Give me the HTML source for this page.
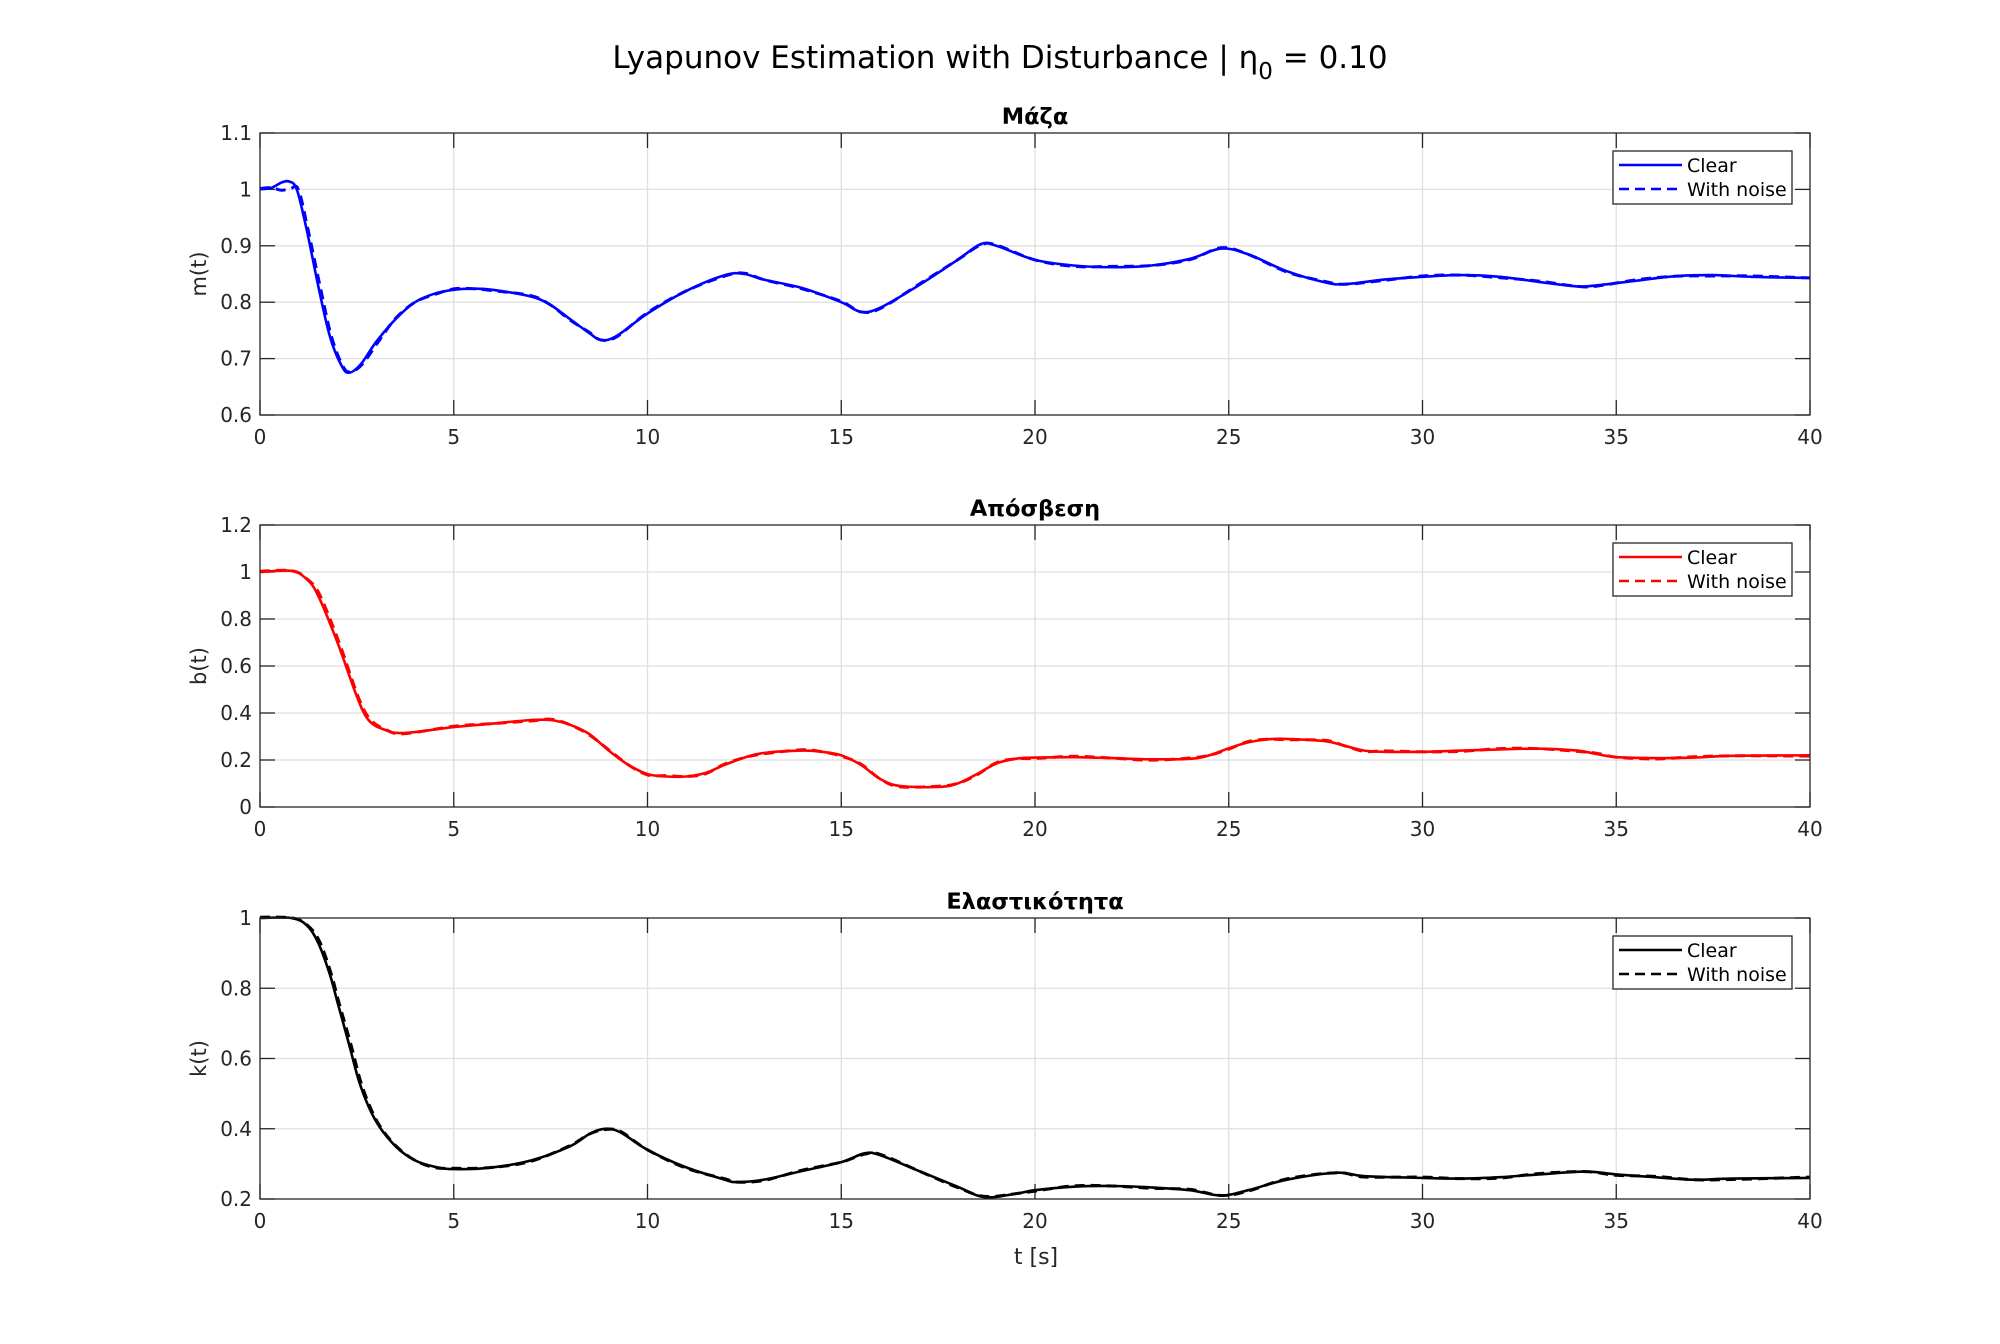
<!DOCTYPE html>
<html><head><meta charset="utf-8">
<style>
html,body{margin:0;padding:0;background:#fff;}
svg{display:block;font-family:"DejaVu Sans","Liberation Sans",sans-serif;}
</style></head>
<body>
<svg id="s" width="2000" height="1344" xmlns="http://www.w3.org/2000/svg">
<rect width="2000" height="1344" fill="#fff"/>
<text x="1000" y="68" font-size="31" text-anchor="middle" fill="#000">Lyapunov Estimation with Disturbance | η<tspan font-size="23" dy="11">0</tspan><tspan dy="-11"> = 0.10</tspan></text>
<g id="plots"></g>
<text x="1036" y="1264" font-size="22" text-anchor="middle" fill="#262626">t [s]</text>
</svg>
<script>
const L=260,R=1810;
const panels=[
 {top:133,bot:415,ymin:0.6,ymax:1.1,ticks:[0.6,0.7,0.8,0.9,1,1.1],lab:["0.6","0.7","0.8","0.9","1","1.1"],title:"Μάζα",yl:"m(t)",col:"#0000ff",
  d:[[0,1],[0.3,1.003],[0.55,1.012],[0.75,1.014],[0.95,1.0],[1.2,0.93],[1.5,0.83],[1.8,0.74],[2.1,0.688],[2.3,0.675],[2.6,0.69],[3,0.73],[3.5,0.77],[4,0.8],[4.5,0.815],[5,0.822],[5.5,0.824],[6,0.822],[7,0.81],[7.5,0.795],[8,0.77],[8.5,0.745],[8.8,0.733],[9.2,0.74],[10,0.78],[11,0.82],[12,0.848],[12.5,0.85],[13,0.84],[14,0.825],[15,0.80],[15.5,0.783],[16,0.79],[17,0.83],[18,0.875],[18.6,0.903],[19,0.9],[20,0.875],[21,0.865],[22,0.862],[23,0.865],[24,0.877],[24.8,0.895],[25.5,0.885],[26.5,0.855],[27.5,0.835],[28,0.832],[29,0.84],[30,0.845],[31,0.848],[32,0.845],[33,0.836],[34,0.828],[34.5,0.83],[35.5,0.838],[36.5,0.846],[37.5,0.848],[38.5,0.845],[40,0.843]]},
 {top:525,bot:807,ymin:0,ymax:1.2,ticks:[0,0.2,0.4,0.6,0.8,1,1.2],lab:["0","0.2","0.4","0.6","0.8","1","1.2"],title:"Απόσβεση",yl:"b(t)",col:"#ff0000",
  d:[[0,1],[0.8,1.005],[1.2,0.97],[1.5,0.9],[2,0.7],[2.5,0.47],[2.8,0.37],[3.2,0.33],[3.7,0.315],[5,0.34],[6,0.355],[7,0.37],[7.5,0.37],[8,0.35],[8.5,0.31],[9,0.24],[9.5,0.18],[10,0.14],[10.5,0.13],[11,0.13],[11.5,0.145],[12,0.18],[12.5,0.21],[13,0.23],[14,0.24],[14.5,0.235],[15,0.22],[15.5,0.18],[16,0.12],[16.5,0.09],[17.5,0.085],[18,0.1],[18.5,0.14],[19,0.185],[19.5,0.205],[20,0.21],[21,0.212],[22,0.208],[23,0.203],[24,0.205],[24.5,0.22],[25,0.25],[25.5,0.275],[26,0.288],[26.5,0.29],[27.5,0.28],[28,0.26],[28.5,0.24],[29,0.235],[30,0.235],[31,0.24],[32,0.245],[33,0.248],[34,0.24],[34.5,0.225],[35,0.212],[36,0.208],[37,0.21],[38,0.218],[40,0.22]]},
 {top:918,bot:1199,ymin:0.2,ymax:1,ticks:[0.2,0.4,0.6,0.8,1],lab:["0.2","0.4","0.6","0.8","1"],title:"Ελαστικότητα",yl:"k(t)",col:"#000000",
  d:[[0,1],[0.8,1],[1.2,0.98],[1.5,0.93],[1.8,0.84],[2,0.76],[2.3,0.64],[2.6,0.52],[3,0.42],[3.5,0.35],[4,0.31],[4.5,0.292],[5,0.285],[6,0.29],[7,0.31],[8,0.35],[8.5,0.385],[8.9,0.4],[9.3,0.39],[10,0.34],[11,0.29],[12,0.255],[12.3,0.248],[13,0.255],[14,0.28],[15,0.305],[15.6,0.33],[16,0.325],[17,0.28],[18,0.235],[18.7,0.205],[19.5,0.215],[20,0.225],[21,0.235],[22,0.237],[23,0.233],[24,0.225],[24.8,0.21],[25.5,0.225],[26.5,0.255],[27.8,0.275],[28.5,0.265],[30,0.26],[31,0.258],[32,0.262],[33,0.27],[34.2,0.278],[35,0.27],[36,0.262],[37,0.255],[38,0.258],[40,0.26]]}
];
function path(pts){
 let s="M"+pts[0][0].toFixed(1)+","+pts[0][1].toFixed(1);
 for(let i=0;i<pts.length-1;i++){
  const p0=pts[Math.max(0,i-1)],p1=pts[i],p2=pts[i+1],p3=pts[Math.min(pts.length-1,i+2)];
  const c1=[p1[0]+(p2[0]-p0[0])/6,p1[1]+(p2[1]-p0[1])/6];
  const c2=[p2[0]-(p3[0]-p1[0])/6,p2[1]-(p3[1]-p1[1])/6];
  s+=" C"+c1[0].toFixed(1)+","+c1[1].toFixed(1)+" "+c2[0].toFixed(1)+","+c2[1].toFixed(1)+" "+p2[0].toFixed(1)+","+p2[1].toFixed(1);
 }
 return s;
}
let h="";
panels.forEach((p,k)=>{
 const X=t=>L+(R-L)*t/40, Y=v=>p.bot-(p.bot-p.top)*(v-p.ymin)/(p.ymax-p.ymin);
 for(let t=5;t<40;t+=5)h+=`<line x1="${X(t)}" y1="${p.top}" x2="${X(t)}" y2="${p.bot}" stroke="#dfdfdf" stroke-width="1.3"/>`;
 p.ticks.forEach(v=>{if(v>p.ymin&&v<p.ymax)h+=`<line x1="${L}" y1="${Y(v)}" x2="${R}" y2="${Y(v)}" stroke="#dfdfdf" stroke-width="1.3"/>`;});
 for(let t=0;t<=40;t+=5){h+=`<line x1="${X(t)}" y1="${p.bot}" x2="${X(t)}" y2="${p.bot-15}" stroke="#262626" stroke-width="1.3"/><line x1="${X(t)}" y1="${p.top}" x2="${X(t)}" y2="${p.top+15}" stroke="#262626" stroke-width="1.3"/>`;
  h+=`<text x="${X(t)}" y="${p.bot+29}" font-size="20" text-anchor="middle" fill="#262626">${t}</text>`;}
 p.ticks.forEach((v,i)=>{h+=`<line x1="${L}" y1="${Y(v)}" x2="${L+15}" y2="${Y(v)}" stroke="#262626" stroke-width="1.3"/><line x1="${R}" y1="${Y(v)}" x2="${R-15}" y2="${Y(v)}" stroke="#262626" stroke-width="1.3"/>`;
  h+=`<text x="${L-8}" y="${Y(v)+7}" font-size="20" text-anchor="end" fill="#262626">${p.lab[i]}</text>`;});
 const pts=p.d.map(a=>[X(a[0]),Y(a[1])]);
 const npts=p.d.map((a,i)=>{let t=a[0],v=a[1];if(k==0&&t>0.3&&t<1.2){v=Math.min(v,1.0);}if(t>0.7&&t<3.5){t+=0.04;}return [X(t),Y(v-0.003*(p.ymax-p.ymin)*((i%3)-1))];});
 h+=`<path d="${path(npts)}" fill="none" stroke="${p.col}" stroke-width="3" stroke-dasharray="10,6"/>`;
 h+=`<path d="${path(pts)}" fill="none" stroke="${p.col}" stroke-width="2.6"/>`;
 h+=`<rect x="${L}" y="${p.top}" width="${R-L}" height="${p.bot-p.top}" fill="none" stroke="#262626" stroke-width="1.3"/>`;
 h+=`<text x="${(L+R)/2}" y="${p.top-9}" font-size="22.5" font-weight="bold" text-anchor="middle" fill="#000">${p.title}</text>`;
 const cy=(p.top+p.bot)/2;
 h+=`<text transform="translate(206,${cy}) rotate(-90)" font-size="21" text-anchor="middle" fill="#262626">${p.yl}</text>`;
 const ly=p.top+18;
 h+=`<rect x="1613" y="${ly}" width="179" height="53" fill="#fff" stroke="#262626" stroke-width="1.3"/>`;
 h+=`<line x1="1619" y1="${ly+14}" x2="1682" y2="${ly+14}" stroke="${p.col}" stroke-width="2.6"/>`;
 h+=`<line x1="1619" y1="${ly+38}" x2="1682" y2="${ly+38}" stroke="${p.col}" stroke-width="2.6" stroke-dasharray="10,6"/>`;
 h+=`<text x="1687" y="${ly+21}" font-size="19" fill="#000">Clear</text>`;
 h+=`<text x="1687" y="${ly+45}" font-size="19" fill="#000">With noise</text>`;
});
document.getElementById("plots").innerHTML=h;
</script>
</body></html>
